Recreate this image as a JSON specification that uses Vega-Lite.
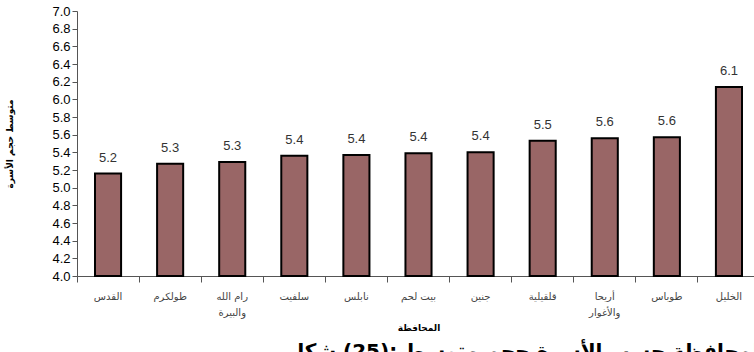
{
  "$schema": "https://vega.github.io/schema/vega-lite/v6.json",
  "autosize": {"type": "none"},
  "width": 677,
  "height": 265,
  "padding": {"left": 77, "top": 11, "right": 0, "bottom": 76},
  "background": "white",
  "config": {"view": {"stroke": null}},
  "title": {
    "text": "\u200eشكل\u200e (25):\u200e متوسط\u200e حجم\u200e الأسرة\u200e حسب\u200e المحافظة،\u200e الضفة\u200e الغربية\u200e 2007",
    "orient": "bottom",
    "anchor": "start",
    "align": "left",
    "dx": 281,
    "fontSize": 20,
    "fontWeight": "bold",
    "font": "DejaVu Sans",
    "color": "black",
    "offset": 10
  },
  "data": {
    "values": [
      {"governorate": "القدس", "size": 5.16},
      {"governorate": "طولكرم", "size": 5.27},
      {"governorate": "رام الله والبيرة", "size": 5.29},
      {"governorate": "سلفيت", "size": 5.36},
      {"governorate": "نابلس", "size": 5.37},
      {"governorate": "بيت لحم", "size": 5.39},
      {"governorate": "جنين", "size": 5.40},
      {"governorate": "قلقيلية", "size": 5.53},
      {"governorate": "أريحا والأغوار", "size": 5.56},
      {"governorate": "طوباس", "size": 5.57},
      {"governorate": "الخليل", "size": 6.14}
    ]
  },
  "encoding": {
    "x": {
      "field": "governorate",
      "type": "nominal",
      "sort": null,
      "scale": {"range": [0, 683], "paddingInner": 0, "paddingOuter": 0},
      "axis": {
        "title": "المحافظة",
        "titleFont": "DejaVu Sans",
        "titleFontSize": 9,
        "titleFontWeight": "bold",
        "titleColor": "black",
        "titlePadding": 6,
        "labelAngle": 0,
        "labelFont": "DejaVu Sans",
        "labelFontSize": 10,
        "labelColor": "#444",
        "labelPadding": 9,
        "labelLineHeight": 16,
        "labelExpr": "indexof(datum.label, ' و') > 0 ? split(replace(datum.label, ' و', '|و'), '|') : datum.label",
        "bandPosition": 0,
        "tickSize": 6,
        "tickColor": "#555",
        "domainColor": "#555",
        "grid": false
      }
    },
    "y": {
      "field": "size",
      "type": "quantitative",
      "scale": {"domain": [4, 7], "nice": false, "zero": false, "clamp": true},
      "axis": {
        "title": "متوسط حجم الأسرة",
        "titleFont": "DejaVu Sans",
        "titleFontSize": 9,
        "titleFontWeight": "bold",
        "titleColor": "black",
        "titlePadding": 37,
        "values": [4.0, 4.2, 4.4, 4.6, 4.8, 5.0, 5.2, 5.4, 5.6, 5.8, 6.0, 6.2, 6.4, 6.6, 6.8, 7.0],
        "format": ".1f",
        "labelFont": "Liberation Sans",
        "labelFontSize": 13,
        "labelColor": "black",
        "labelPadding": 2,
        "tickSize": 5,
        "tickColor": "#555",
        "domainColor": "#555",
        "grid": false
      }
    }
  },
  "layer": [
    {
      "mark": {"type": "bar", "width": {"band": 0.42}, "color": "#996666", "stroke": "black", "strokeWidth": 2}
    },
    {
      "mark": {"type": "text", "baseline": "bottom", "dy": -9, "font": "Liberation Sans", "fontSize": 13, "color": "#333"},
      "encoding": {"text": {"field": "size", "type": "quantitative", "format": ".1f"}}
    }
  ]
}
